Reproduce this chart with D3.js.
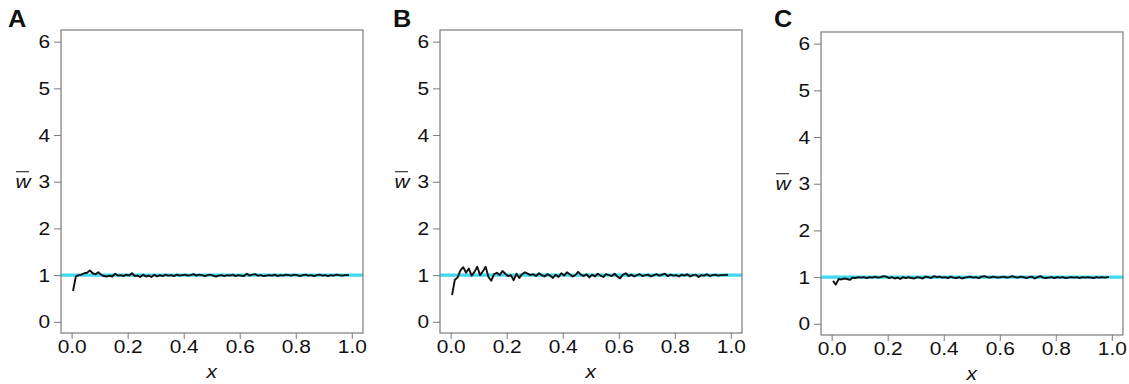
<!DOCTYPE html>
<html>
<head>
<meta charset="utf-8">
<script src="https://cdn.jsdelivr.net/npm/d3@7"></script>
<style>
  body { margin: 0; background: #fff; }
  svg text { font-family: "Liberation Sans", Arial, sans-serif; fill: #111; }
</style>
</head>
<body>
<svg id="chart" width="1129" height="384"></svg>
<script>
// x positions shared by all three panels
const xs = [
  0.005, 0.015, 0.025, 0.035, 0.045, 0.055, 0.065, 0.075, 0.085, 0.095,
  0.105, 0.115, 0.125, 0.135, 0.145, 0.155, 0.165, 0.175, 0.185, 0.195,
  0.205, 0.215, 0.225, 0.235, 0.245, 0.255, 0.265, 0.275, 0.285, 0.295,
  0.305, 0.315, 0.325, 0.335, 0.345, 0.355, 0.365, 0.375, 0.385, 0.395,
  0.405, 0.415, 0.425, 0.435, 0.445, 0.455, 0.465, 0.475, 0.485, 0.495,
  0.505, 0.515, 0.525, 0.535, 0.545, 0.555, 0.565, 0.575, 0.585, 0.595,
  0.605, 0.615, 0.625, 0.635, 0.645, 0.655, 0.665, 0.675, 0.685, 0.695,
  0.705, 0.715, 0.725, 0.735, 0.745, 0.755, 0.765, 0.775, 0.785, 0.795,
  0.805, 0.815, 0.825, 0.835, 0.845, 0.855, 0.865, 0.875, 0.885, 0.895,
  0.905, 0.915, 0.925, 0.935, 0.945, 0.955, 0.965, 0.975, 0.985, 0.99
];

const wA = [
  0.66, 0.97, 1.00, 1.01, 1.04, 1.05, 1.10, 1.04, 1.02, 1.06,
  1.01, 0.98, 0.97, 0.99, 0.97, 1.03, 0.99, 1.00, 0.98, 1.01,
  0.99, 1.04, 0.98, 0.99, 0.96, 1.01, 0.97, 0.99, 0.96, 1.01,
  0.97, 1.00, 0.98, 1.01, 0.99, 1.00, 0.98, 1.01, 0.99, 1.00,
  1.01, 0.99, 1.00, 1.02, 0.99, 1.01, 1.00, 0.98, 1.00, 1.01,
  0.99, 0.97, 0.99, 1.00, 0.98, 1.00, 0.99, 1.01, 0.98, 1.00,
  0.99, 0.98, 1.03, 0.99, 1.01, 1.02, 0.99, 1.00, 0.98, 0.99,
  1.00, 0.99, 1.01, 0.98, 1.00, 0.99, 1.01, 1.00, 0.99, 1.01,
  1.00, 0.98, 1.00, 1.01, 0.99, 1.00, 0.98, 1.00, 1.01, 0.99,
  1.00, 0.98, 1.00, 0.99, 1.01, 1.00, 0.99, 1.00, 1.00, 1.00
];

const wB = [
  0.57, 0.90, 0.95, 1.10, 1.17, 1.05, 1.14, 0.99, 1.07, 1.18,
  1.00, 1.08, 1.18, 0.96, 0.88, 1.02, 1.05, 1.00, 1.09, 1.03,
  0.98, 1.00, 0.89, 1.03, 0.94, 1.02, 1.06, 1.03, 1.00, 1.02,
  0.98, 1.04, 1.00, 0.97, 1.02, 0.99, 0.94, 1.01, 0.96, 1.04,
  0.99, 1.06, 1.02, 0.97, 1.00, 1.07, 1.01, 0.98, 1.02, 0.95,
  1.01, 0.97, 1.03, 0.99, 0.96, 1.02, 1.00, 0.98, 1.03, 0.97,
  0.93, 1.01, 1.04, 0.98, 1.01, 0.97, 1.00, 1.02, 0.98, 1.00,
  1.01, 0.97, 1.00, 1.02, 0.99, 1.01, 1.03, 0.98, 1.01, 0.99,
  1.00, 0.97, 1.01, 0.99, 1.02, 0.97, 1.00, 1.01, 0.96, 1.00,
  0.99, 1.02, 0.98, 1.00, 1.01, 0.99, 1.00, 1.00, 1.01, 1.00
];

const wC = [
  0.92, 0.84, 0.96, 0.95, 0.97, 0.96, 0.94, 0.99, 0.98, 1.00,
  0.99, 1.00, 0.98, 1.00, 0.99, 1.01, 0.99, 1.00, 1.02, 1.01,
  0.98, 1.00, 0.97, 0.99, 0.96, 1.00, 0.98, 1.00, 0.98, 0.97,
  1.00, 0.99, 0.97, 1.01, 1.00, 0.98, 1.02, 1.00, 1.01, 0.99,
  1.00, 0.98, 1.01, 0.99, 0.98, 1.00, 0.97, 0.99, 1.00, 1.01,
  0.99, 1.00, 0.98, 1.01, 1.02, 1.00, 0.99, 1.01, 1.00, 0.99,
  1.00, 1.01, 0.99, 1.00, 1.02, 1.00, 0.99, 1.01, 1.00, 0.98,
  1.00, 1.01, 0.97, 1.00, 1.02, 0.99, 0.98, 0.99, 1.00, 0.98,
  1.00, 0.99, 1.00, 0.98, 0.99, 1.00, 0.99, 1.00, 0.98, 1.00,
  0.99, 1.00, 0.99, 0.98, 1.00, 0.99, 1.00, 0.99, 1.00, 1.00
];

const panelLabels = ['A', 'B', 'C'];
const series = [wA, wB, wC];
const reference = 1;
const xTicks = [0, 0.2, 0.4, 0.6, 0.8, 1.0];
const yTicks = [0, 1, 2, 3, 4, 5, 6];

const svg = d3.select('#chart');

// panel frames, left/top of each plot box
const frames = [
  { left: 61, top: 30, letterX: 8 },
  { left: 440, top: 30, letterX: 393 },
  { left: 821, top: 32, letterX: 774 }
];
const plotW = 302;
const plotH = 303;
const fontSize = 19;
const stretch = 1.1; // the source figure is slightly wider than tall

frames.forEach((f, p) => {
  const g = svg.append('g').attr('transform', `translate(${f.left},${f.top})`);

  const x = d3.scaleLinear().domain([-0.038, 1.04]).range([0, plotW]);
  const y = d3.scaleLinear().domain([-0.24, 6.25]).range([plotH, 0]);

  // reference line at w = 1
  g.append('line')
    .attr('x1', 0)
    .attr('x2', plotW)
    .attr('y1', y(reference))
    .attr('y2', y(reference))
    .attr('stroke', '#3fd9ef')
    .attr('stroke-width', 3.2);

  const line = d3
    .line()
    .x((d, i) => x(xs[i]))
    .y((d) => y(d));

  g.append('path')
    .datum(series[p])
    .attr('d', line)
    .attr('fill', 'none')
    .attr('stroke', '#111')
    .attr('stroke-width', 1.9)
    .attr('stroke-linejoin', 'round');

  // plot box
  g.append('rect')
    .attr('x', 0)
    .attr('y', 0)
    .attr('width', plotW)
    .attr('height', plotH)
    .attr('fill', 'none')
    .attr('stroke', '#7a7a7a')
    .attr('stroke-width', 1.2);

  const yAxis = g.append('g').call(d3.axisLeft(y).tickValues(yTicks).tickSize(7).tickFormat(d3.format('d')));
  yAxis.select('.domain').remove();
  yAxis.selectAll('line').attr('stroke', '#7a7a7a');
  yAxis.selectAll('text')
    .attr('font-size', fontSize)
    .attr('fill', '#111')
    .attr('x', -11 / stretch)
    .attr('transform', `scale(${stretch},1)`)
    .attr('font-family', '"Liberation Sans", Arial, sans-serif');

  const xAxis = g
    .append('g')
    .attr('transform', `translate(0,${plotH})`)
    .call(d3.axisBottom(x).tickValues(xTicks).tickSize(6).tickFormat(d3.format('.1f')));
  xAxis.select('.domain').remove();
  xAxis.selectAll('line').attr('stroke', '#7a7a7a');
  xAxis.selectAll('text')
    .attr('font-size', fontSize)
    .attr('fill', '#111')
    .attr('y', 7)
    .attr('transform', `scale(${stretch},1)`)
    .attr('font-family', '"Liberation Sans", Arial, sans-serif');

  // axis titles
  g.append('text')
    .attr('transform', `translate(${x(0.5)},${plotH + 45}) scale(${stretch},1)`)
    .attr('text-anchor', 'middle')
    .attr('font-size', fontSize)
    .attr('font-style', 'italic')
    .text('x');

  g.append('text')
    .attr('transform', `translate(-38,${y(3) + 6}) scale(${stretch},1)`)
    .attr('text-anchor', 'middle')
    .attr('font-size', fontSize)
    .attr('font-style', 'italic')
    .text('w');
  g.append('line')
    .attr('x1', -45)
    .attr('x2', -32)
    .attr('y1', y(3) - 10)
    .attr('y2', y(3) - 10)
    .attr('stroke', '#111')
    .attr('stroke-width', 1);

  svg.append('text')
    .attr('transform', `translate(${f.letterX},27) scale(${stretch},1)`)
    .attr('font-size', 23)
    .attr('font-weight', 'bold')
    .text(panelLabels[p]);
});
</script>
</body>
</html>
